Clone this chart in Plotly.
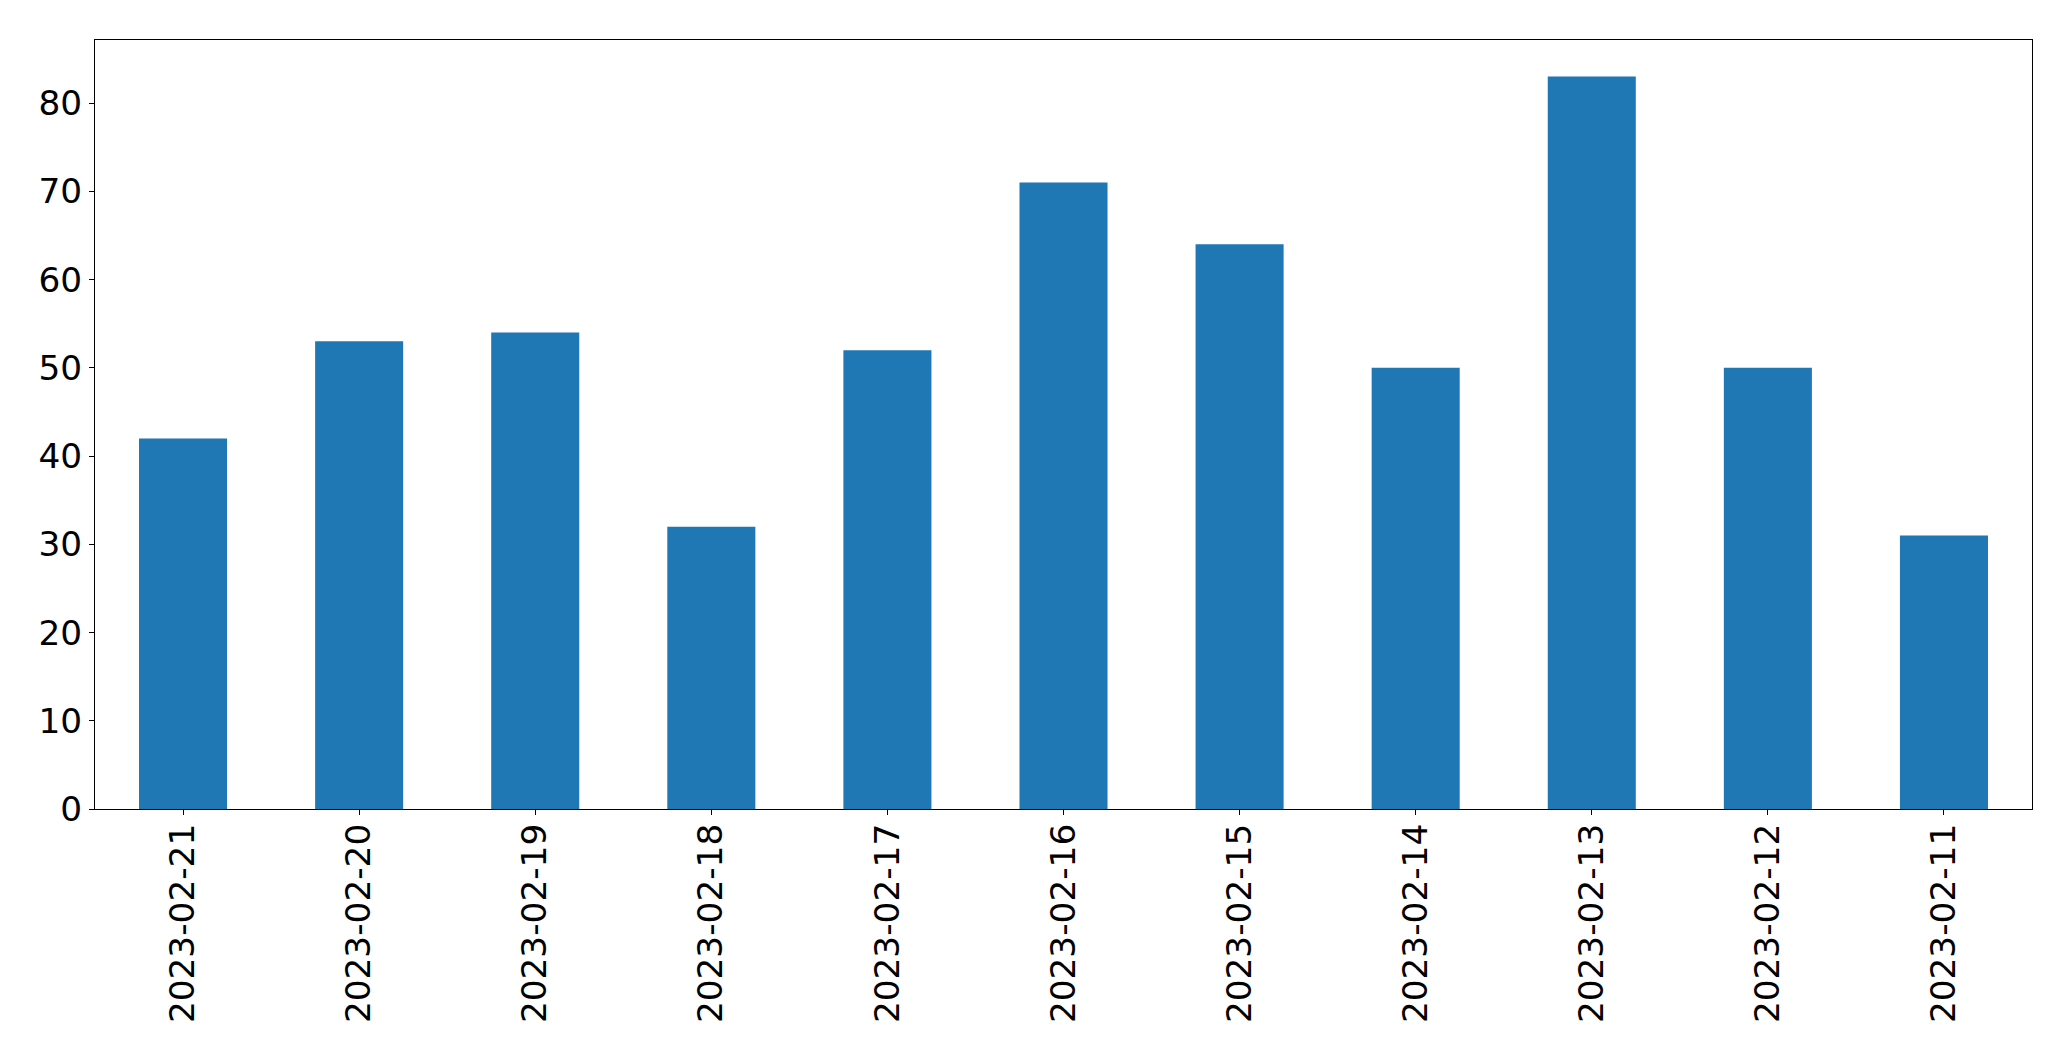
import plotly.graph_objects as go

dates = ["2023-02-21", "2023-02-20", "2023-02-19", "2023-02-18", "2023-02-17",
         "2023-02-16", "2023-02-15", "2023-02-14", "2023-02-13", "2023-02-12",
         "2023-02-11"]
counts = [42, 53, 54, 32, 52, 71, 64, 50, 83, 50, 31]
y_ticks = [0, 10, 20, 30, 40, 50, 60, 70, 80]

fig = go.Figure(go.Bar(
    x=list(range(len(dates))), y=counts, width=0.5,
    marker=dict(color="#1f77b4", line=dict(width=0)),
))

axis_common = dict(
    showline=True, linecolor="black", linewidth=1.1, mirror=True,
    ticks="outside", ticklen=5, tickwidth=1.1, tickcolor="black",
    showgrid=False, zeroline=False,
    tickfont=dict(family="DejaVu Sans", size=34.3, color="black"),
)

fig.update_layout(
    width=2055, height=1045,
    margin=dict(l=86.5, r=31.3, t=31.5, b=244, autoexpand=False),
    paper_bgcolor="white", plot_bgcolor="white",
    showlegend=False,
    xaxis=dict(range=[-0.5, len(dates) - 0.5], tickmode="array",
               tickvals=list(range(len(dates))), ticktext=dates,
               tickangle=-90, automargin=False, ticklabelstandoff=-5,
               **axis_common),
    yaxis=dict(range=[0, max(counts) * 1.05], tickmode="array",
               tickvals=y_ticks, automargin=False, **axis_common),
)

fig.write_html("out.html")
